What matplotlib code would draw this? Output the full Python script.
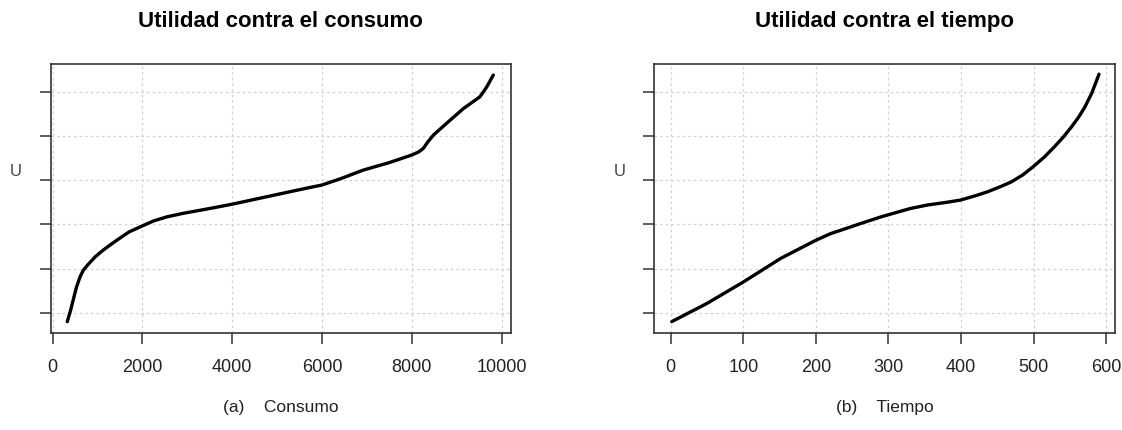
import numpy as np
import matplotlib
matplotlib.use('Agg')
import matplotlib.pyplot as plt

plt.rcParams['font.family'] = ['Liberation Sans', 'DejaVu Sans']

# ── Data (U in arbitrary units) ──
consumo   = [325, 400, 459, 530, 608, 680, 760, 831, 950, 1127, 1300, 1425,
             1700, 2004, 2250, 2539, 2900, 3281, 3600, 4009, 4600, 5285, 5700,
             5991, 6400, 6918, 7500, 7996, 8150, 8254, 8350, 8477, 8775, 9145,
             9517, 9666, 9813]
u_consumo = [-0.20, 0.06, 0.30, 0.58, 0.81, 0.96, 1.06, 1.14, 1.27, 1.42, 1.55,
             1.64, 1.83, 1.97, 2.08, 2.17, 2.25, 2.32, 2.38, 2.46, 2.59, 2.74,
             2.83, 2.89, 3.03, 3.23, 3.40, 3.57, 3.64, 3.72, 3.86, 4.02, 4.29,
             4.62, 4.89, 5.11, 5.38]

tiempo   = [1.4, 49.7, 100.3, 151.4, 199.7, 220, 240, 261.5, 289.5, 330, 353.9,
            380, 398.9, 420, 436.7, 455, 468.9, 485, 500.3, 515, 528.7, 541,
            552.2, 562, 570.6, 580, 590]
u_tiempo = [-0.20, 0.21, 0.70, 1.23, 1.64, 1.79, 1.90, 2.02, 2.17, 2.36, 2.44,
            2.50, 2.55, 2.65, 2.74, 2.86, 2.96, 3.12, 3.32, 3.53, 3.76, 3.98,
            4.21, 4.43, 4.66, 4.97, 5.40]

y_ticks      = [0, 1, 2, 3, 4, 5]
x_ticks_cons = [0, 2000, 4000, 6000, 8000, 10000]
x_ticks_time = [0, 100, 200, 300, 400, 500, 600]

titles  = ['Utilidad contra el consumo', 'Utilidad contra el tiempo']
xlabels = ['(a)    Consumo', '(b)    Tiempo']

# ── Figure ───────────────────────────────────────────────────
W, H = 1122, 430
fig = plt.figure(figsize=(W / 100, H / 100), dpi=100)

def px_axes(x0, x1, y0, y1):
    return fig.add_axes([x0 / W, 1 - y1 / H, (x1 - x0) / W, (y1 - y0) / H])

ax1 = px_axes(50.7, 511, 64, 332.7)
ax2 = px_axes(654, 1115, 64, 332.7)

panels = [
    (ax1, consumo, u_consumo, x_ticks_cons, (-44, 10207)),
    (ax2, tiempo, u_tiempo, x_ticks_time, (-23, 612)),
]

for i, (ax, x, y, xt, xl) in enumerate(panels):
    ax.plot(x, y, color='black', lw=2.4, solid_capstyle='round',
            solid_joinstyle='round')
    ax.set_xlim(*xl)
    ax.set_ylim(-0.45, 5.63)
    ax.set_xticks(xt)
    ax.set_yticks(y_ticks)
    ax.set_yticklabels([])
    ax.grid(True, color='#d0d0d0', linestyle=(0, (2, 2.5)), lw=0.9)
    ax.tick_params(axis='both', direction='out', length=8, width=1.1,
                   color='#333333', labelsize=13, labelcolor='#222222')
    ax.tick_params(axis='x', pad=11)
    for s in ax.spines.values():
        s.set_color('#333333')
        s.set_linewidth(1.2)
    ax.set_title(titles[i], fontsize=16, fontweight='bold', pad=27)
    ax.set_xlabel(xlabels[i], fontsize=12.5, labelpad=17, color='#222222')
    ax.text(-0.075, 0.60, 'U', transform=ax.transAxes, fontsize=12,
            color='#444444', ha='center', va='center')

fig.savefig('out.png', dpi=100)
